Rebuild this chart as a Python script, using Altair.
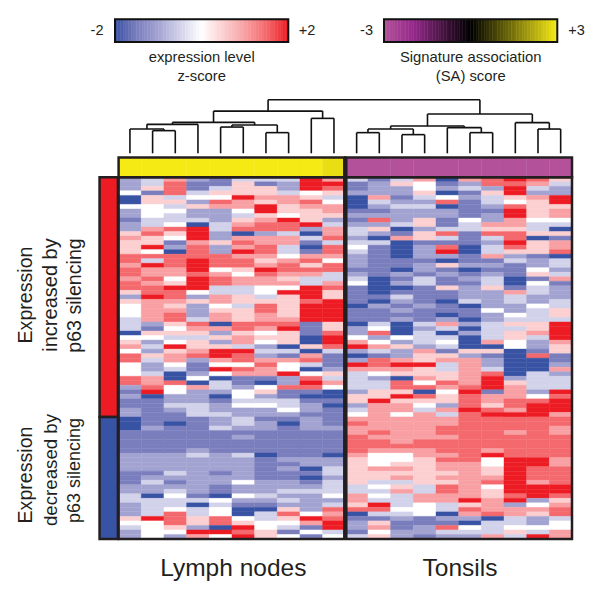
import altair as alt
import pandas as pd

# Heatmap levels, one list per sample, top row to bottom row. One unit = 0.5 z-score.
lymph_1 = [-2,-2,-2,0,-4,-4,0,-2,-2,-3,-2,-2,1,2,1,1,1,3,3,2,3,3,2,3,3,1,-2,1,0,0,0,-1,-1,-1,-4,0,1,2,0,3,3,0,0,0,3,3,-2,-3,-2,-3,-3,-2,-2,-4,-4,-4,-3,-3,-3,-3,-3,-2,-2,-2,-2,-3,-3,-3,-2,-2,-1,-1,-2,-2,-2,1,0,-1,-2,-2]
lymph_2 = [-1,-1,1,-3,1,1,0,0,0,-1,-1,2,3,1,1,4,0,3,-1,4,2,2,3,2,3,3,4,2,2,2,2,2,-2,-3,1,0,-2,-1,-2,1,-1,-2,-2,-1,2,2,3,4,-4,-3,-3,-3,-3,-3,-3,-2,-3,-3,-3,-3,-3,-2,-2,-2,-2,-3,-2,-1,-2,-2,-4,-1,-1,-1,-1,4,0,0,0,0]
lymph_3 = [2,3,3,3,-1,1,-1,0,-1,-1,0,3,1,0,-3,-2,-4,3,3,3,2,2,0,1,4,3,3,2,1,2,3,3,1,0,1,-1,0,4,1,2,2,0,-1,-4,-4,3,0,0,-2,-2,-1,-2,-3,-3,-4,-3,-3,-3,-3,-3,-3,-2,-2,-2,-2,-1,-2,-3,-2,-1,0,-1,-1,0,3,3,3,1,0,-2]
lymph_4 = [-2,-3,-3,-1,0,-2,1,-2,-2,-1,-4,4,4,4,2,3,3,3,4,4,4,3,4,4,4,0,-2,1,-2,-2,-2,-1,3,2,1,-1,1,1,2,3,-2,-3,-3,-2,0,-4,2,-2,-2,-2,-1,-1,-1,-3,-3,-3,-3,-3,-3,-3,-2,-1,-2,-2,-2,-2,-2,-2,-2,-2,-3,-1,-4,-1,-1,1,1,-2,4,2]
lymph_5 = [-3,-3,-1,1,0,3,2,-2,-2,-2,-1,-1,-2,-2,1,-2,-2,3,3,3,0,2,3,3,-1,-1,2,2,0,1,2,2,-4,2,-2,1,-2,1,4,4,2,0,4,0,-4,-1,-1,-2,-4,-3,-2,-2,-1,-2,-2,-1,-3,-3,-3,-3,-3,-2,-2,-2,-2,-3,-2,-2,-3,-3,-4,0,-1,0,0,3,3,-4,4,0]
lymph_6 = [-1,1,1,1,4,2,2,0,-1,1,2,3,-4,2,3,2,4,2,3,3,1,0,2,2,-1,-1,1,1,-1,1,1,1,3,3,1,2,2,-1,4,3,3,0,3,2,-3,-3,-2,0,0,-1,0,-2,-2,-1,-1,-2,-3,-2,-3,-3,-3,-1,-2,-2,-2,-2,-2,0,-2,-2,0,-2,-3,-4,-4,0,1,4,3,4]
lymph_7 = [-1,-3,1,1,2,1,4,4,1,2,3,3,-2,2,2,3,3,2,1,2,4,3,2,2,0,0,-1,1,3,3,2,2,3,2,0,1,0,-2,-1,-2,2,3,2,2,-3,-4,0,1,-2,-1,0,-2,-2,-3,-2,-2,-3,-3,-3,-3,-3,-4,-3,-3,-3,-3,-3,-2,-2,-2,-1,-2,-3,-4,-1,-1,0,0,1,1]
lymph_8 = [-1,-2,-2,-1,2,2,1,1,0,4,3,3,-1,2,2,-1,-1,0,2,3,3,2,1,2,0,4,1,1,1,1,1,2,3,4,1,1,1,-4,-1,-3,2,0,0,4,-2,-2,3,-3,-3,-1,-1,0,-2,-3,-4,-3,-3,-3,-3,-3,-3,-3,-2,-3,-2,-3,-3,-2,-2,-1,-2,-1,-2,1,3,1,0,-1,-3,0]
lymph_9 = [4,4,4,0,1,3,2,1,1,1,4,-2,-4,-1,-3,-4,-3,2,3,1,3,2,-1,-1,4,4,4,3,4,4,4,4,-3,-3,-3,-4,-4,1,-4,2,3,-1,-4,0,3,4,3,-3,-4,-3,-2,-2,-3,-2,-2,-2,-3,-3,-3,-3,-3,-3,-2,-2,-4,-3,-4,-3,-2,-1,-2,-2,-2,-2,0,4,2,-3,0,-3]
lymph_10 = [2,4,3,1,-1,0,2,2,1,-2,-1,2,2,3,-1,3,3,2,0,3,3,-1,-1,2,3,1,1,4,4,4,4,4,1,1,3,4,4,3,-1,-3,-3,-3,-2,1,-1,2,0,-4,-4,-3,-4,-3,-3,-3,-3,-2,-3,-3,-3,-3,-3,-4,-2,-2,-1,-1,-2,-1,-1,-1,0,-2,-1,3,2,3,4,4,-1,0]
tonsil_1 = [-1,-3,-3,-2,-4,-4,-4,-3,-2,-3,-2,-1,-1,-2,-1,0,-1,-2,-2,-2,-3,-2,-1,0,-3,-3,-3,-3,-4,-3,-3,-3,-4,-2,-2,0,2,4,-2,-4,-2,4,2,-1,-1,-1,-1,-2,1,1,-2,-1,0,2,3,2,2,3,3,3,3,2,1,1,1,1,1,1,-1,-1,2,2,1,3,-4,-3,-2,-2,-3,-1]
tonsil_2 = [-3,-2,-2,-2,2,-1,-2,-3,-2,3,-2,1,-2,-4,-1,-3,-3,-3,-3,-3,-3,-3,-4,-4,-4,-4,-3,-4,-2,-3,-3,-3,-1,0,3,-2,0,2,-1,-3,3,3,2,0,-2,-1,-1,1,1,4,2,2,2,2,2,2,3,2,3,3,2,0,0,0,2,1,1,-1,0,-1,0,-1,4,3,-1,-3,1,2,0,1]
tonsil_3 = [-1,1,-2,-2,-3,-2,-1,-2,-2,-2,-1,-4,-3,2,-4,-4,-4,-4,-3,-3,-4,-2,-3,-2,-4,-3,-1,-2,-3,-2,-3,-2,-4,-4,-4,0,-2,1,-2,-2,2,4,2,1,-4,3,3,1,4,1,2,2,0,2,2,2,2,2,2,3,2,0,0,1,2,1,2,-1,1,2,-1,-1,-1,0,-1,-2,-3,-3,-2,-2]
tonsil_4 = [2,0,0,1,-1,-2,-1,-2,-2,1,1,-2,1,1,-3,-2,-2,-2,-3,-2,-2,-3,-1,-1,-3,-3,-3,-3,-2,-3,-3,-3,-1,-2,-1,-1,-1,-2,2,1,1,4,1,1,2,0,3,-4,3,1,0,-1,2,2,2,2,2,2,3,3,2,2,1,1,1,1,1,1,-1,-1,2,2,0,0,0,-3,-3,-2,-2,-3]
tonsil_5 = [-4,-3,-2,-4,0,3,-4,-2,-2,-3,-3,-1,3,-1,-3,3,4,-2,-4,1,-3,-2,-3,-3,1,-3,-3,-4,-3,-3,-4,-2,2,-1,-4,-1,0,-1,-3,1,2,-1,-1,1,1,3,2,0,1,1,-2,2,-1,2,2,3,3,2,3,3,3,2,3,2,2,1,2,1,3,3,2,2,-1,-1,-4,-2,-3,3,-1,-2]
tonsil_6 = [2,-2,-1,-3,-2,-3,-3,-3,-3,0,-1,-1,-3,-3,-3,-4,-4,-3,-3,-2,-4,-3,-2,-3,-2,-2,-2,-1,-4,-3,-3,-4,-2,-4,-2,-4,-4,-4,1,-2,2,2,2,2,2,2,3,4,3,3,3,4,3,3,3,3,3,3,3,3,3,3,3,2,2,2,2,2,2,2,2,4,1,3,2,-2,-4,0,-1,-2]
tonsil_7 = [3,3,-2,1,-1,-1,-2,-3,-2,-2,2,1,3,-1,-2,-1,-1,2,-3,-2,-3,-2,-1,-1,1,-2,-2,-2,-2,0,-2,-2,-1,-1,-1,-1,2,-4,1,-3,-2,-2,-1,3,4,4,4,-3,2,2,1,3,4,3,3,3,3,3,3,3,2,4,0,0,1,1,2,3,0,1,1,2,2,2,3,-4,-1,-1,-1,2]
tonsil_8 = [4,3,4,4,1,0,3,4,4,2,2,1,3,3,4,3,1,-2,-1,-3,-3,-3,-4,-4,-3,2,-1,-1,-2,-2,0,-1,1,-1,1,1,0,0,-4,-4,-4,-4,-4,-4,-2,1,2,2,2,3,3,2,4,3,3,3,2,3,3,3,3,3,4,4,4,4,4,4,4,4,3,4,-2,2,2,-1,-1,0,1,-1]
tonsil_9 = [3,2,-1,-2,2,1,1,1,1,0,-1,-1,1,-4,1,1,1,-3,-2,-2,0,1,-3,0,-1,-1,-2,-2,0,-1,-1,-1,1,1,2,-1,-2,-2,-3,3,-4,-4,-4,-1,-1,-1,-1,-2,0,3,4,4,4,3,3,3,3,3,3,3,3,3,4,4,3,3,3,2,4,4,4,-2,0,2,1,-2,-2,0,-1,4]
tonsil_10 = [1,-1,-2,-2,4,4,1,2,2,0,-1,-4,1,-3,2,2,3,-4,-1,-1,-2,-1,2,-3,-2,-2,-2,-1,-1,1,1,-1,4,4,4,4,2,1,1,-3,-3,-2,2,-2,-1,-1,-1,4,3,4,4,4,2,3,3,2,2,3,3,3,3,3,2,2,3,3,3,3,4,4,3,1,2,3,3,-1,0,0,2,2]
columns = [lymph_1, lymph_2, lymph_3, lymph_4, lymph_5, lymph_6, lymph_7, lymph_8, lymph_9, lymph_10,
           tonsil_1, tonsil_2, tonsil_3, tonsil_4, tonsil_5, tonsil_6, tonsil_7, tonsil_8, tonsil_9, tonsil_10]

# SA score per sample (top colour band)
sa_scores = [3]*9 + [2.85] + [-3]*10
# Gene groups: rows in each
group_rows = [53, 27]
group_z = [2, -2]

# Dendrogram merges: (left child, right child, height). Ints are leaves, strings are nodes.
merges = [
    ("a", 1, 2, 22.7), ("b", 0, "a", 24.3), ("c", "b", 3, 29), ("d", 4, 5, 26.3), ("e", 6, 7, 20.7),
    ("f", "d", "e", 28.3), ("g", "c", "f", 31), ("h", 8, 9, 35), ("i", "g", "h", 42.3),
    ("j", 10, 11, 20.7), ("k", 12, 13, 18.7), ("l", "j", "k", 24.3), ("m", 15, 16, 20.7), ("n", 14, "m", 25.7),
    ("o", "l", "n", 27.3), ("p", 18, 19, 24.3), ("q", 17, "p", 30.7), ("r", "o", "q", 39.3), ("s", "i", "r", 53.7),
]

z_ticks = ["-2", "+2"]
sa_ticks = ["-3", "+3"]

W = H = 584
OFF = 8
INK = "#231f20"


def dom(v0, p0, v1, p1, size=W):
    """Scale domain that sends v0 to page pixel p0 and v1 to page pixel p1."""
    k = (v1 - v0) / (p1 - p0)
    a = v0 + (OFF - p0) * k
    return [a, a + size * k]


col_dom = dom(0, 118.6, 20, 572)
row_dom = dom(0, 177.3, 80, 539)
hgt_dom = dom(0, 153.3, 53.7, 99.7)
zbar_dom = dom(-2, 115, 2, 288.3)
sbar_dom = dom(-3, 384, 3, 557.3)

xs = alt.Scale(domain=col_dom, nice=False, zero=False)
ys = alt.Scale(domain=row_dom[::-1], nice=False, zero=False)
X = alt.X("x0:Q", scale=xs, axis=None)
Y = alt.Y("y0:Q", scale=ys, axis=None)

z_scale = alt.Scale(domain=[-2, -1.5, -1, -0.5, 0, 1, 1.5, 2],
                    range=["#3953a4", "#7a7ebd", "#a3a3d2", "#d2d2ea", "#ffffff", "#f8a0a3", "#f4696d", "#ed1c24"],
                    interpolate="rgb")
sa_scale = alt.Scale(domain=[-3, -2, 0, 3], range=["#b3519a", "#962a8c", "#000000", "#f5ea14"], interpolate="rgb")

cells = pd.DataFrame([
    {"x0": c, "x1": c + 1, "y0": r, "y1": r + 1, "z": v / 2}
    for c, col in enumerate(columns) for r, v in enumerate(col)
])
heat = alt.Chart(cells).mark_rect(strokeWidth=0.4).encode(
    x=X, x2="x1:Q", y=Y, y2="y1:Q",
    color=alt.Color("z:Q", scale=z_scale, legend=None),
    stroke=alt.Stroke("z:Q", scale=z_scale, legend=None),
)

# Side bar of gene groups
side_rows = []
start = 0
for n, z in zip(group_rows, group_z):
    side_rows.append({"x0": -0.84, "x1": -0.03, "y0": start, "y1": start + n, "z": z})
    start += n
side = alt.Chart(pd.DataFrame(side_rows)).mark_rect(stroke=INK, strokeWidth=2.5).encode(
    x=X, x2="x1:Q", y=Y, y2="y1:Q",
    color=alt.Color("z:Q", scale=z_scale, legend=None),
)

band = alt.Chart(pd.DataFrame([
    {"x0": i, "x1": i + 1, "y0": -4.4, "y1": 0, "s": s} for i, s in enumerate(sa_scores)
])).mark_rect(strokeWidth=0.4).encode(
    x=X, x2="x1:Q", y=Y, y2="y1:Q",
    color=alt.Color("s:Q", scale=sa_scale, legend=None),
    stroke=alt.Stroke("s:Q", scale=sa_scale, legend=None),
)

frames = alt.Chart(pd.DataFrame([
    {"x0": 0, "x1": 10, "y0": -4.4, "y1": 0, "w": 2.5},
    {"x0": 10, "x1": 20, "y0": -4.4, "y1": 0, "w": 2.5},
    {"x0": 0, "x1": 20, "y0": 0, "y1": 80, "w": 2.5},
])).mark_rect(fill=None, stroke=INK).encode(
    x=X, x2="x1:Q", y=Y, y2="y1:Q", strokeWidth=alt.StrokeWidth("w:Q", scale=None),
)
divider = alt.Chart(pd.DataFrame([{"x0": 10, "y0": -4.4, "y1": 80}])).mark_rule(color=INK, strokeWidth=4.5).encode(
    x=X, y=Y, y2="y1:Q",
)

# Dendrogram segments, built from the merge table
pos = {i: i + 0.5 for i in range(20)}
hgt = {i: 0 for i in range(20)}
segs = []
for name, a, b, h in merges:
    segs.append({"x0": pos[a], "x1": pos[b], "h0": h, "h1": h})
    segs.append({"x0": pos[a], "x1": pos[a], "h0": hgt[a], "h1": h})
    segs.append({"x0": pos[b], "x1": pos[b], "h0": hgt[b], "h1": h})
    pos[name] = (pos[a] + pos[b]) / 2
    hgt[name] = h
dendro = alt.Chart(pd.DataFrame(segs)).mark_rule(color="#111111", strokeWidth=1.6).encode(
    x=X, x2="x1:Q",
    y=alt.Y("h0:Q", scale=alt.Scale(domain=hgt_dom[::-1], nice=False, zero=False), axis=None),
    y2="h1:Q",
)


def colorbar(lo, hi, domain, scale):
    n = 64
    step = (hi - lo) / n
    strip = pd.DataFrame([{"v": lo + i * step, "v1": lo + (i + 1) * step, "c": lo + (i + 0.5) * step, "p": 0, "p1": 1}
                          for i in range(n)])
    xb = alt.X("v:Q", scale=alt.Scale(domain=domain, nice=False, zero=False), axis=None)
    yb = alt.Y("p:Q", scale=alt.Scale(domain=dom(0, 42, 1, 19.3)[::-1], nice=False, zero=False), axis=None)
    bar = alt.Chart(strip).mark_rect(strokeWidth=0.5).encode(
        x=xb, x2="v1:Q", y=yb, y2="p1:Q",
        color=alt.Color("c:Q", scale=scale, legend=None),
        stroke=alt.Stroke("c:Q", scale=scale, legend=None),
    )
    box = alt.Chart(pd.DataFrame([{"v": lo, "v1": hi, "p": 0, "p1": 1}])).mark_rect(
        fill=None, stroke="#111111", strokeWidth=2).encode(x=xb, x2="v1:Q", y=yb, y2="p1:Q")
    return bar, box


zbar, zbox = colorbar(-2, 2, zbar_dom, z_scale)
sbar, sbox = colorbar(-3, 3, sbar_dom, sa_scale)


def label_layer(rows, angle=0):
    kw = {"angle": angle} if angle else {}
    return alt.Chart(pd.DataFrame(rows, columns=["t", "px", "py", "fs"])).mark_text(
        font="Liberation Sans", color=INK, align="center", baseline="middle", **kw
    ).encode(
        x=alt.X("px:Q", scale=None), y=alt.Y("py:Q", scale=None), text="t:N",
        size=alt.Size("fs:Q", scale=None, legend=None),
    )


small = label_layer([
    (z_ticks[0], 89, 22.7, 14.5), (z_ticks[1], 299, 22.7, 14.5), (sa_ticks[0], 358.5, 22.7, 14.5), (sa_ticks[1], 568.5, 22.7, 14.5),
    ("expression level", 193.7, 50, 14.8), ("z-score", 193.7, 68.5, 14.8),
    ("Signature association", 462.7, 50, 14.8), ("(SA) score", 462.7, 69, 14.8),
    ("Lymph nodes", 225.3, 561, 24.5), ("Tonsils", 452, 561, 24.5),
])
side_text = label_layer([
    ("Expression", 18, 287, 19.6), ("increased by", 43, 287, 20), ("p63 silencing", 67, 287.5, 19.6),
    ("Expression", 18, 467, 19.6), ("decreased by", 43, 462, 18.7), ("p63 silencing", 67, 462.5, 18),
], angle=270)

chart = alt.layer(
    heat, band, side, frames, divider, dendro, zbar, zbox, sbar, sbox, small, side_text
).resolve_scale(x="independent", y="independent", color="independent", stroke="independent").properties(
    width=W, height=H, padding=0, autosize=alt.AutoSizeParams(type="none")
).configure_view(stroke=None)

chart.save("out.html", embed_options={"renderer": "svg", "actions": False})
